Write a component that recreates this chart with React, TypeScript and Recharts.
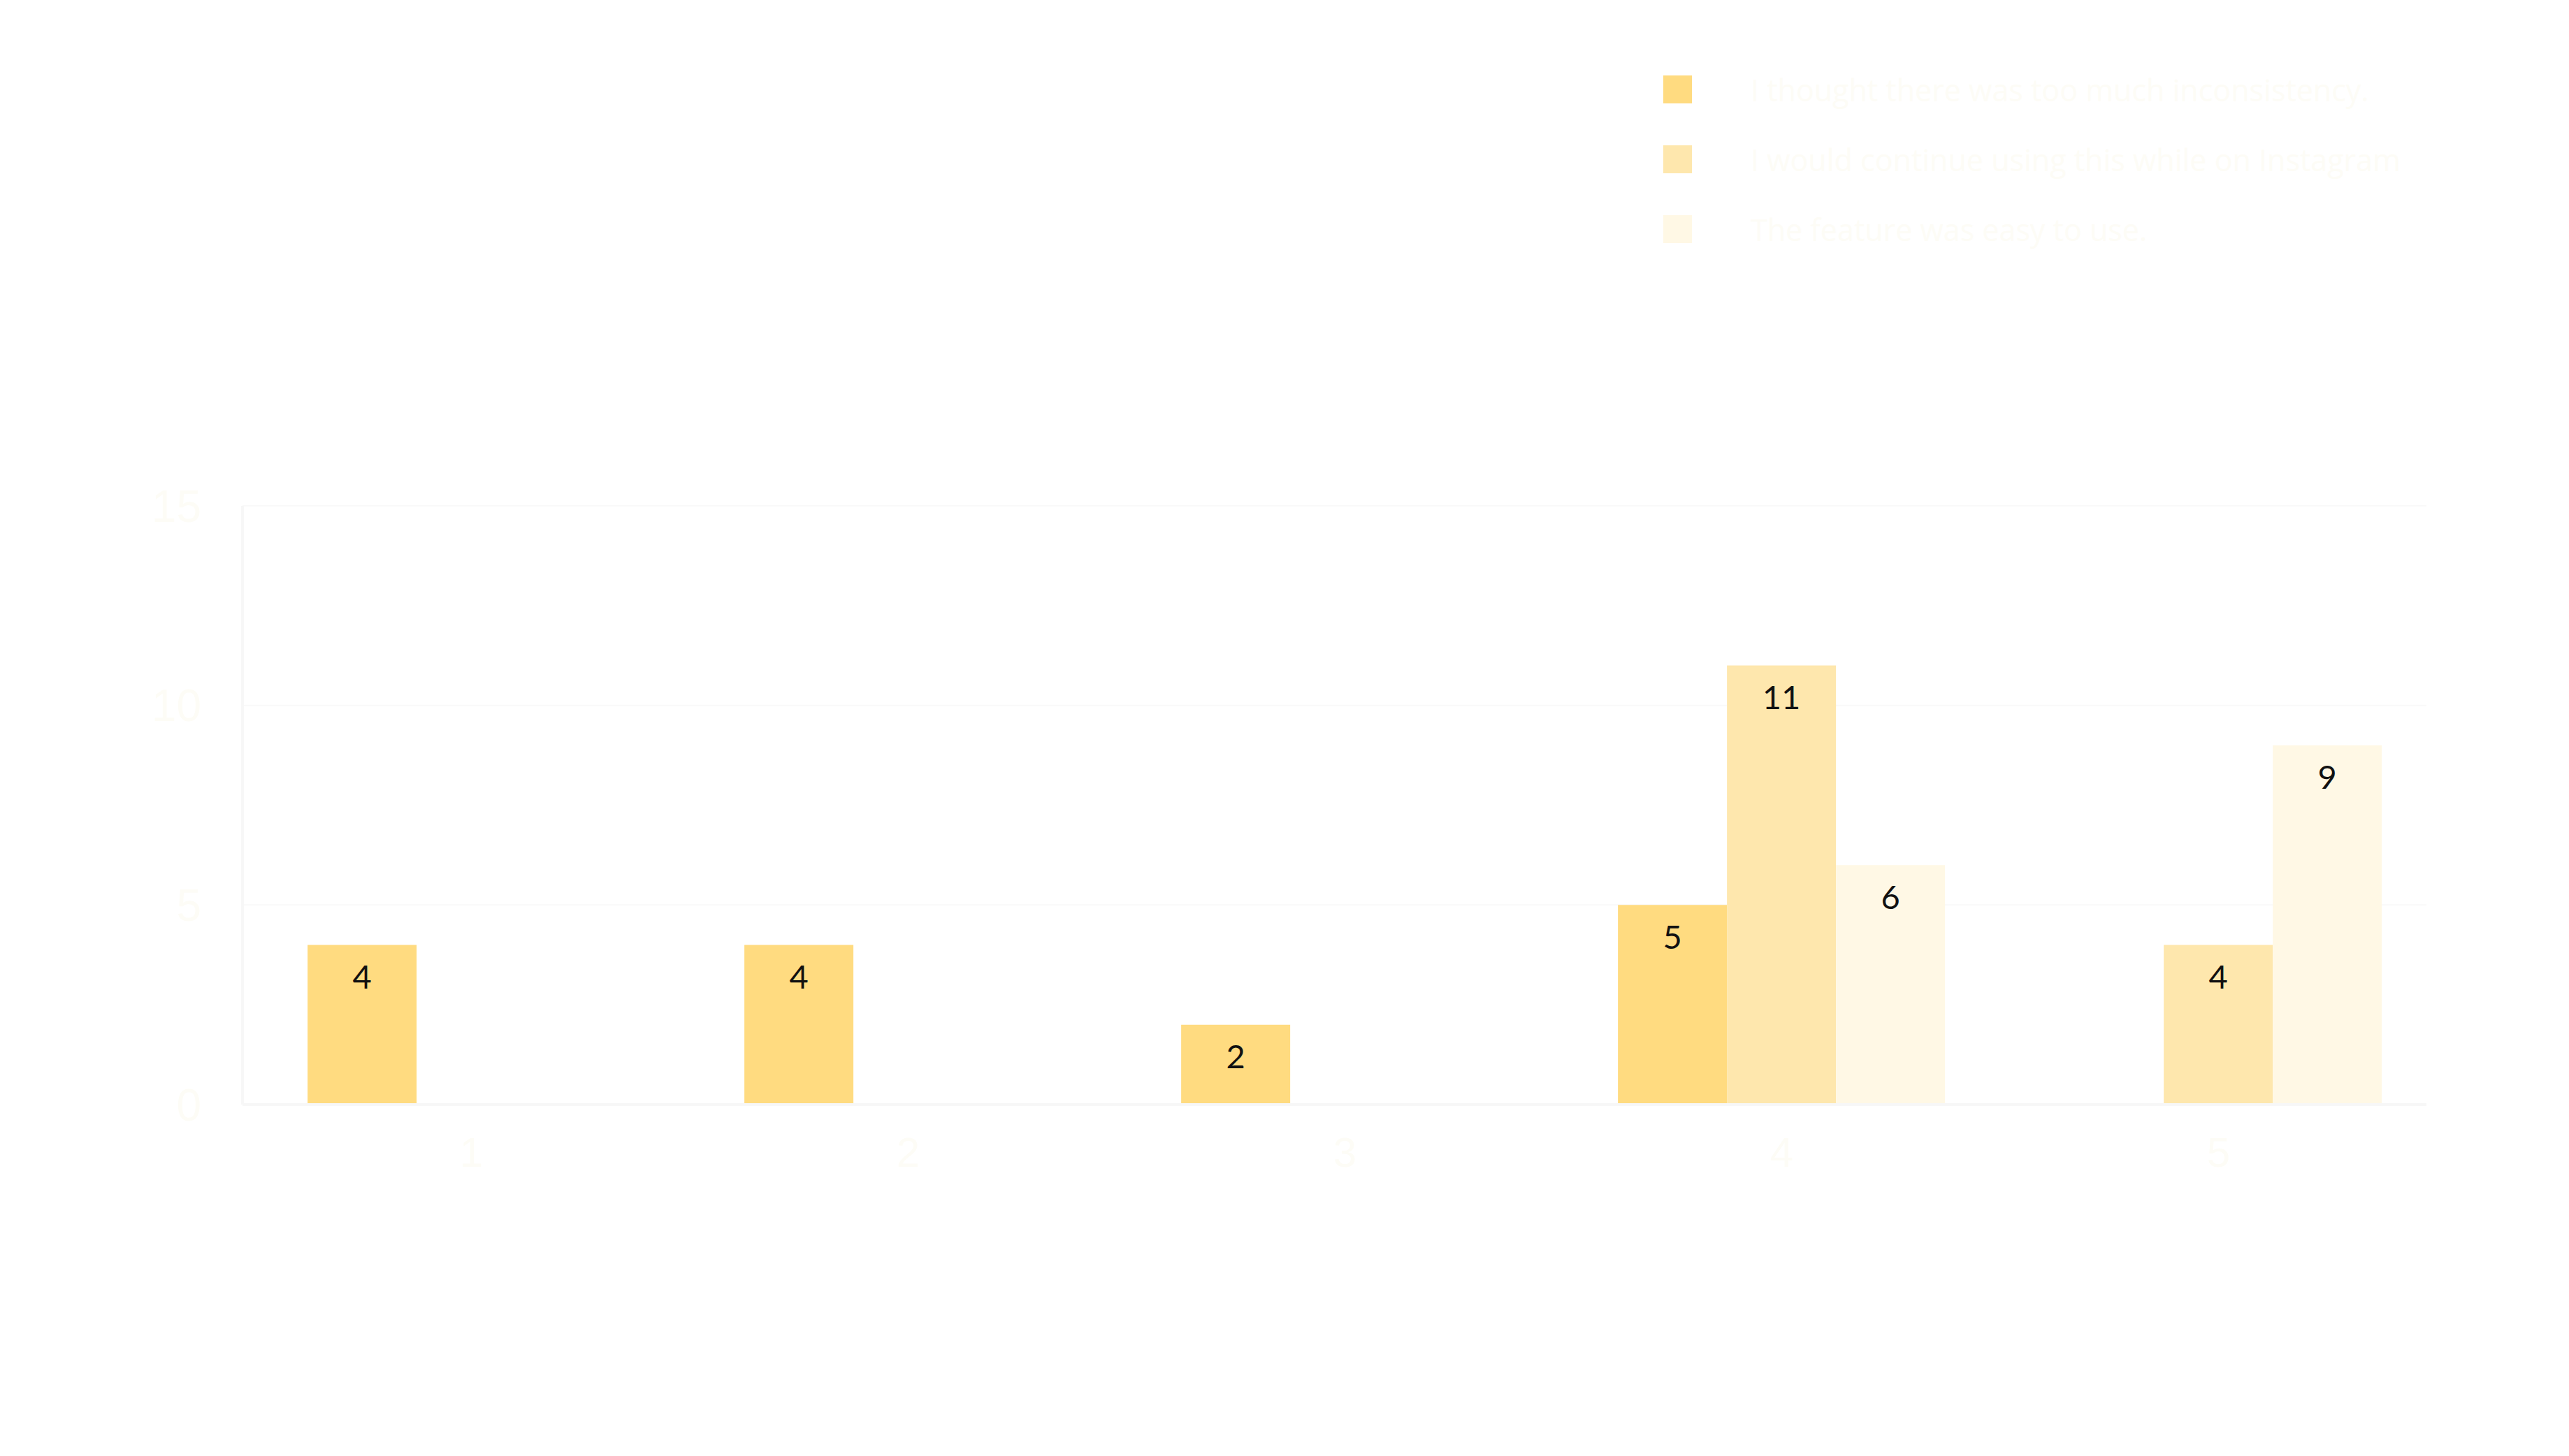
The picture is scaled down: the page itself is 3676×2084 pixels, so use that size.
import React from "react";
import {
  BarChart,
  Bar,
  XAxis,
  YAxis,
  CartesianGrid,
  Legend,
  LabelList,
} from "recharts";

// survey answers per scale point (1..5)
const categories = ["1", "2", "3", "4", "5"];
const inconsistency = [4, 4, 2, 5, null];
const continueUsing = [null, null, null, 11, 4];
const easyToUse = [null, null, null, 6, 9];
const yTicks = [0, 5, 10, 15];

const seriesNames = [
  "I thought there was too much inconsistency.",
  "I would continue using this while on Instagram",
  "The feature was easy to use.",
];
const seriesColors = ["#FFDB80", "#FEE7AD", "#FFF8E5"];

const data = categories.map((c, i) => ({
  name: c,
  a: inconsistency[i],
  b: continueUsing[i],
  c: easyToUse[i],
}));

const faint = "#fdfcf6";
const lineColor = "#f7f7f7";

const renderLegend = (props: any) => {
  const { payload } = props;
  return (
    <div>
      {payload.map((entry: any) => (
        <div
          key={entry.value}
          style={{
            display: "flex",
            alignItems: "center",
            height: 40,
            marginBottom: 60,
          }}
        >
          <div
            style={{ width: 41, height: 40, background: entry.color, marginRight: 84 }}
          />
          <span
            style={{
              fontFamily: "'Open Sans', sans-serif",
              fontSize: 43,
              color: faint,
              whiteSpace: "nowrap",
            }}
          >
            {entry.value}
          </span>
        </div>
      ))}
    </div>
  );
};

const hideEmpty = (v: any) => (v === null || v === undefined ? "" : v);

export default function App() {
  const labelStyle = { fontFamily: "Lato, sans-serif", fontSize: 47 };
  return (
    <div style={{ width: 3660, height: 2060 }}>
      <BarChart
        width={3660}
        height={2060}
        data={data}
        margin={{ top: 716, right: 196, bottom: 367, left: 0 }}
        barCategoryGap="12.5%"
        barGap={0}
      >
        <CartesianGrid
          vertical={false}
          stroke="#f9f9f9"
          strokeWidth={2}
        />
        <XAxis
          dataKey="name"
          height={120}
          padding={{ left: 15, right: -15 }}
          tickLine={false}
          tickSize={0}
          tickMargin={46}
          axisLine={{ stroke: lineColor, strokeWidth: 4 }}
          tick={{ fill: faint, fontSize: 60, fontFamily: "'Liberation Sans', Arial, sans-serif" }}
        />
        <YAxis
          width={339}
          domain={[0, 15]}
          ticks={yTicks}
          tickLine={false}
          tickSize={0}
          tickMargin={59}
          axisLine={{ stroke: lineColor, strokeWidth: 4 }}
          tick={{ fill: faint, fontSize: 64, fontFamily: "'Liberation Sans', Arial, sans-serif" }}
        />
        <Legend
          layout="vertical"
          align="center"
          verticalAlign="middle"
          content={renderLegend}
          wrapperStyle={{ position: "absolute", left: 2372, top: 100, width: 1250, right: "auto", bottom: "auto" }}
        />
        <Bar dataKey="a" name={seriesNames[0]} fill={seriesColors[0]} isAnimationActive={false}>
          <LabelList dataKey="a" position="insideTop" offset={29} fill="#111" formatter={hideEmpty} style={labelStyle} />
        </Bar>
        <Bar dataKey="b" name={seriesNames[1]} fill={seriesColors[1]} isAnimationActive={false}>
          <LabelList dataKey="b" position="insideTop" offset={29} fill="#111" formatter={hideEmpty} style={labelStyle} />
        </Bar>
        <Bar dataKey="c" name={seriesNames[2]} fill={seriesColors[2]} isAnimationActive={false}>
          <LabelList dataKey="c" position="insideTop" offset={29} fill="#111" formatter={hideEmpty} style={labelStyle} />
        </Bar>
      </BarChart>
    </div>
  );
}
